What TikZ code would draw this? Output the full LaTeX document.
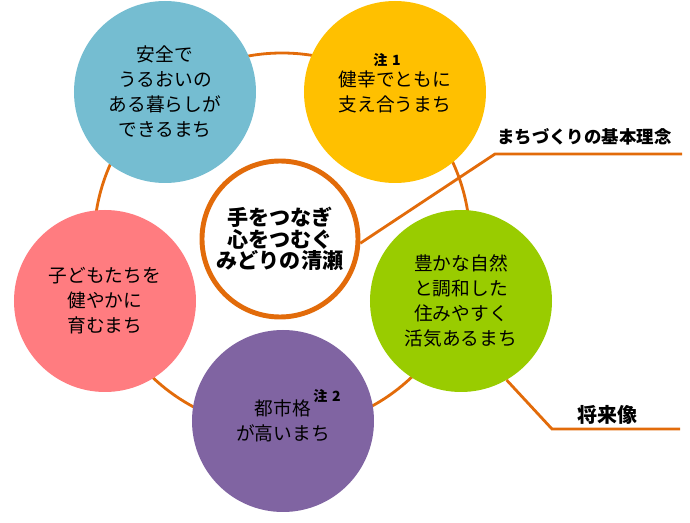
\documentclass[tikz,border=0pt]{standalone}
\usepackage{fontspec}
\setmainfont{Noto Sans CJK JP}
\usetikzlibrary{positioning,calc}
\definecolor{ringorange}{RGB}{226,107,10}
\definecolor{skyblue}{RGB}{117,189,209}
\definecolor{sunyellow}{RGB}{255,192,0}
\definecolor{leafgreen}{RGB}{153,204,0}
\definecolor{plum}{RGB}{128,100,162}
\definecolor{rosepink}{RGB}{255,124,128}

\begin{document}
\begin{tikzpicture}[
  town/.style={circle, minimum size=4.55cm, inner sep=0pt, align=center,
    font=\fontsize{13.3}{17.7}\selectfont},
  core/.style={circle, draw=ringorange, line width=3.5pt, fill=white,
    minimum size=3.9cm, inner sep=0pt, align=center,
    font=\bfseries\fontsize{15}{15.3}\selectfont},
  ring/.style={draw=ringorange, line width=2pt},
  lead/.style={draw=ringorange, line width=2pt},
  note/.style={font=\bfseries\fontsize{10}{10}\selectfont, inner sep=0pt},
  lbl/.style={font=\bfseries\fontsize{12.4}{13}\selectfont, inner sep=1pt},
]
  \useasboundingbox (-7.05,-7.05) rectangle (10.2,6.025);

  % ring behind the five circles
  \draw[ring] (0,0) circle (4.7);

  \node[town, fill=skyblue] (safe) at (-2.925,3.725)
    {安全で\\うるおいの\\ある暮らしが\\できるまち};
  \node[town, fill=sunyellow] (care) at (2.825,3.725)
    {健幸でともに\\支え合うまち};
  \node[town, fill=leafgreen] (green) at (4.475,-1.5)
    {豊かな自然\\と調和した\\住みやすく\\活気あるまち};
  \node[town, fill=plum] (city) at (0.025,-4.5)
    {都市格\\が高いまち};
  \node[town, fill=rosepink] (kids) at (-4.425,-1.5)
    {子どもたちを\\健やかに\\育むまち};

  \node[note] (n1) at ($(care.center)+(-0.2,0.8)$) {注\,\,1};
  \node[note] (n2) at ($(city.center)+(1.1,0.62)$) {注\,\,2};

  \node[core] (core) at (-0.05,0.05) {手をつなぎ\\心をつむぐ\\みどりの清瀬};

  % leader lines
  \coordinate (k1) at (5.325,2.175);
  \coordinate (e1) at (10.0,2.175);
  \draw[lead] (core.-3) -- (k1) -- (e1);
  \node[lbl] (idea) at (7.56,2.6) {まちづくりの基本理念};

  \coordinate (k2) at (6.75,-4.7);
  \coordinate (e2) at (9.95,-4.7);
  \draw[lead] (green.-60) -- (k2) -- (e2);
  \node[lbl, font=\bfseries\fontsize{14.2}{15}\selectfont] (vision) at (8.14,-4.35) {将来像};
\end{tikzpicture}
\end{document}
